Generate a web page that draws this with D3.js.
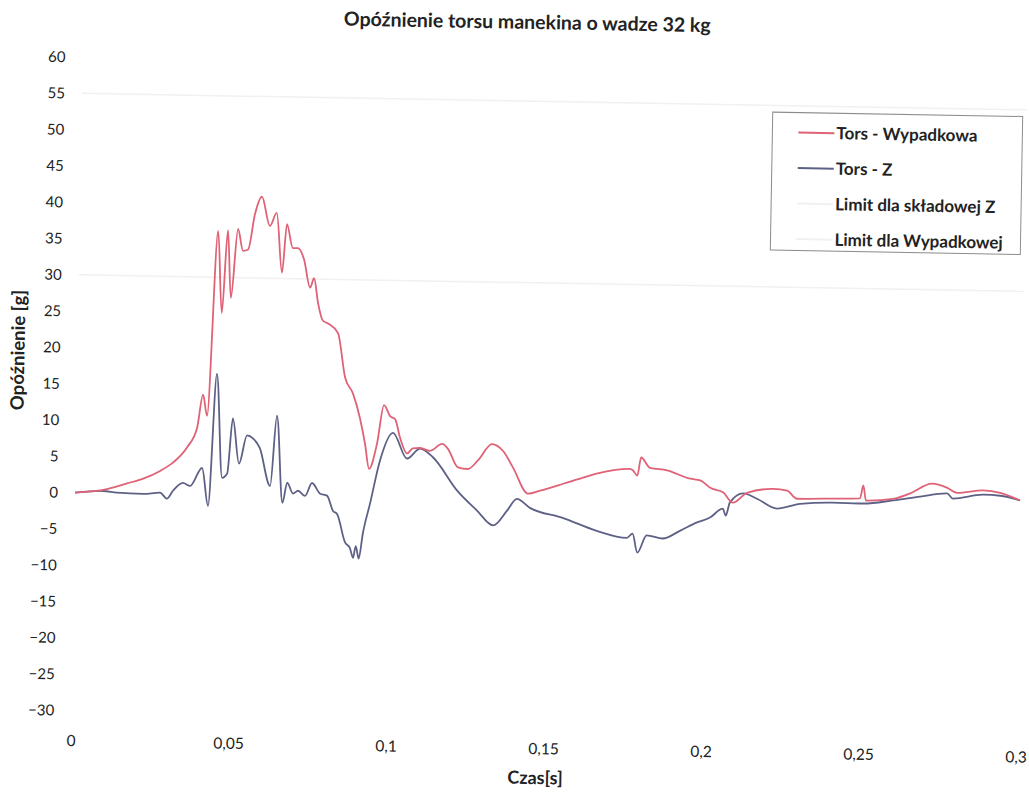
<!DOCTYPE html>
<html>
<head>
<meta charset="utf-8">
<script src="https://cdn.jsdelivr.net/npm/d3@7"></script>
<style>
  body { margin: 0; background: #fff; }
  text { font-family: Lato, "Open Sans", sans-serif; fill: #222; }
</style>
</head>
<body>
<svg id="chart" width="1029" height="793"></svg>
<script>
'use strict';

// Tors - Wypadkowa
const timeWyp = [0, 0.0105, 0.0165, 0.0216, 0.0269, 0.031, 0.0353, 0.0384, 0.0401, 0.0415,
  0.044, 0.0456, 0.0471, 0.0484, 0.0503, 0.052, 0.0536, 0.0556, 0.0577, 0.0604,
  0.0625, 0.0645, 0.0658, 0.0678, 0.0694, 0.0714, 0.0735, 0.0747, 0.0761, 0.0777,
  0.0794, 0.0826, 0.0851, 0.0877, 0.09, 0.0918, 0.0932, 0.0956, 0.0976, 0.0996,
  0.1012, 0.1029, 0.1052, 0.107, 0.1093, 0.1124, 0.1163, 0.1182, 0.1214, 0.1246,
  0.1277, 0.1321, 0.1356, 0.1389, 0.1438, 0.1476, 0.1549, 0.1612, 0.1665, 0.176,
  0.177, 0.1784, 0.1795, 0.1824, 0.1878, 0.1952, 0.1984, 0.2016, 0.2057, 0.2089,
  0.2133, 0.2216, 0.226, 0.2292, 0.2406, 0.2492, 0.2502, 0.2511, 0.2597, 0.2651,
  0.272, 0.2767, 0.28, 0.2883, 0.2937, 0.3];
const valWyp = [0, 0.6, 1.4, 2.1, 3.2, 4.4, 6.5, 9.2, 13.8, 10.9,
  36.4, 25.1, 36.5, 27.2, 36.7, 33.7, 33.9, 38.8, 41.2, 37.2,
  39.0, 30.8, 37.5, 34.2, 34.2, 32.7, 28.8, 30.1, 26.7, 24.3,
  23.9, 22.6, 16.5, 14.3, 11.0, 7.4, 4.0, 7.5, 12.8, 11.3,
  10.9, 8.3, 6.2, 6.9, 7.0, 6.6, 7.6, 6.9, 4.4, 4.2,
  5.4, 7.7, 6.8, 4.5, 0.95, 1.4, 2.4, 3.3, 4.0, 4.6,
  4.4, 3.7, 6.2, 4.8, 4.5, 3.4, 3.2, 2.2, 1.6, 0.2,
  1.6, 2.2, 2.0, 0.9, 1.0, 1.1, 2.9, 0.8, 1.1, 1.9,
  3.3, 2.8, 2.1, 2.5, 2.2, 1.2];

// Tors - Z
const timeZ = [0, 0.0089, 0.0133, 0.0216, 0.027, 0.0292, 0.0311, 0.0342, 0.0365, 0.0402,
  0.0423, 0.0444, 0.0466, 0.0482, 0.0497, 0.0519, 0.0543, 0.0562, 0.0584, 0.0619,
  0.0637, 0.0659, 0.0673, 0.0692, 0.0708, 0.073, 0.0752, 0.0778, 0.08, 0.082,
  0.0833, 0.086, 0.0876, 0.0886, 0.0894, 0.0904, 0.0916, 0.0937, 0.0966, 0.1006,
  0.1052, 0.1093, 0.1135, 0.1213, 0.1277, 0.1329, 0.1373, 0.1403, 0.1445, 0.1549,
  0.1658, 0.1754, 0.1772, 0.1788, 0.1817, 0.1868, 0.1922, 0.1976, 0.2017, 0.2057,
  0.2067, 0.2079, 0.2121, 0.2165, 0.2229, 0.2302, 0.2406, 0.2502, 0.2597, 0.2683,
  0.2768, 0.2787, 0.2883, 0.2937, 0.3];
const valZ = [0, 0.3, 0.1, 0.0, 0.2, -0.6, 0.5, 1.6, 1.2, 3.7,
  -1.5, 16.7, 2.4, 3.0, 10.6, 4.4, 8.3, 7.9, 6.6, 1.4,
  11.1, -0.9, 1.9, 0.4, 0.8, 0.1, 1.9, 0.45, 0.2, -1.9,
  -2.3, -6.2, -7.0, -8.3, -6.7, -8.4, -4.9, -0.8, 5.1, 9.0,
  5.5, 6.9, 5.7, 1.2, -1.5, -3.5, -1.4, 0.2, -1.0, -2.3,
  -4.0, -4.9, -4.3, -6.9, -4.5, -4.9, -3.8, -2.6, -1.9, -0.65,
  -1.6, 0.2, 1.5, 0.8, -0.5, 0.2, 0.45, 0.4, 0.9, 1.5,
  2.0, 1.3, 1.9, 1.8, 1.2];

const limitNames = ["Limit dla składowej Z", "Limit dla Wypadkowej"];
const limitValues = [30, 55];

const yTicks = [60, 55, 50, 45, 40, 35, 30, 25, 20, 15, 10, 5, 0, -5, -10, -15, -20, -25, -30];
const xTicks = [0, 0.05, 0.1, 0.15, 0.2, 0.25, 0.3];

const RED = "#df6276";
const BLUE = "#5d6185";
const LIMIT = "#f1f1f1";

const svg = d3.select("#chart");
// the reference is a slightly tilted scan
const g = svg.append("g").attr("transform", "rotate(1, 75, 492)");

const x = d3.scaleLinear().domain([0, 0.3]).range([75, 1020]);
const y = d3.scaleLinear().domain([-30, 60]).range([710.5, 57]);

const comma = d3.formatLocale({ decimal: ",", thousands: " ", grouping: [3], currency: ["", ""] }).format("~g");

// y axis labels
g.append("g")
    .attr("transform", "translate(58,0)")
    .call(d3.axisLeft(y).tickValues(yTicks).tickSize(0).tickPadding(0))
    .call(a => a.select(".domain").remove())
    .selectAll("text")
    .style("font-family", "Lato, sans-serif")
    .style("font-size", "15px")
    .attr("fill", "#222");

// x axis labels
g.append("g")
    .attr("transform", "translate(0,735)")
    .call(d3.axisBottom(x).tickValues(xTicks).tickFormat(comma).tickSize(0).tickPadding(0))
    .call(a => a.select(".domain").remove())
    .selectAll("text")
    .style("font-family", "Lato, sans-serif")
    .style("font-size", "15.5px")
    .attr("fill", "#222");

// limit lines
g.selectAll("line.limit")
    .data(limitValues)
    .enter()
    .append("line")
    .attr("class", "limit")
    .attr("x1", x(0)).attr("x2", x(0.3))
    .attr("y1", d => y(d)).attr("y2", d => y(d))
    .attr("stroke", LIMIT)
    .attr("stroke-width", 1.5);

const line = d3.line()
    .x(d => x(d[0]))
    .y(d => y(d[1]))
    .curve(d3.curveMonotoneX);

g.append("path")
    .datum(d3.zip(timeZ, valZ))
    .attr("d", line)
    .attr("fill", "none")
    .attr("stroke", BLUE)
    .attr("stroke-width", 1.8);

g.append("path")
    .datum(d3.zip(timeWyp, valWyp))
    .attr("d", line)
    .attr("fill", "none")
    .attr("stroke", RED)
    .attr("stroke-width", 1.8);

// titles
g.append("text")
    .attr("x", 519).attr("y", 21)
    .attr("text-anchor", "middle")
    .style("font-size", "19.5px")
    .style("font-weight", "bold")
    .text("Opóźnienie torsu manekina o wadze 32 kg");

g.append("text")
    .attr("x", 540).attr("y", 776)
    .attr("text-anchor", "middle")
    .style("font-size", "18px")
    .style("font-weight", "bold")
    .text("Czas[s]");

g.append("text")
    .attr("transform", "translate(22,351) rotate(-90)")
    .attr("text-anchor", "middle")
    .style("font-size", "18.5px")
    .style("font-weight", "bold")
    .text("Opóźnienie [g]");

// legend
const legendItems = [
    { name: "Tors - Wypadkowa", color: RED },
    { name: "Tors - Z", color: BLUE },
    { name: limitNames[0], color: LIMIT },
    { name: limitNames[1], color: LIMIT }
];

const legend = g.append("g").attr("transform", "translate(766,100)");
legend.append("rect")
    .attr("width", 250).attr("height", 138)
    .attr("fill", "#fff")
    .attr("stroke", "#8c8c8c")
    .attr("stroke-width", 1);

const entry = legend.selectAll("g.entry")
    .data(legendItems)
    .enter()
    .append("g")
    .attr("class", "entry")
    .attr("transform", (d, i) => "translate(0," + (20 + i * 35.5) + ")");

entry.append("line")
    .attr("x1", 26).attr("x2", 62)
    .attr("stroke", d => d.color)
    .attr("stroke-width", 2);

entry.append("text")
    .attr("x", 64).attr("dy", "0.35em")
    .style("font-size", "17px")
    .style("font-weight", "bold")
    .text(d => d.name);
</script>
</body>
</html>
